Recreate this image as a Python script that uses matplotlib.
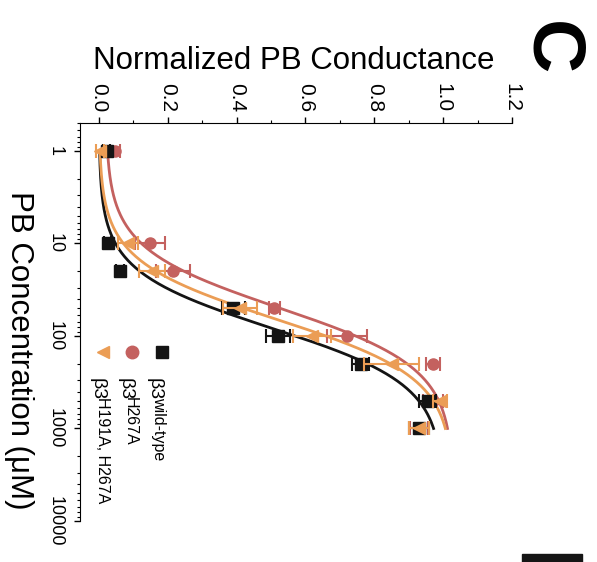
import numpy as np
import matplotlib
matplotlib.use("Agg")
import matplotlib.pyplot as plt
from matplotlib.ticker import MultipleLocator, LogLocator, FixedLocator, FixedFormatter, NullFormatter
from matplotlib.lines import Line2D
from matplotlib.patches import Rectangle

plt.rcParams['font.family'] = ['Liberation Sans', 'DejaVu Sans']

# --- data ---
conc = [1, 10, 20, 50, 100, 200, 500, 1000]

wt_g = [0.023, 0.026, 0.061, 0.39, 0.52, 0.76, 0.955, 0.93]
wt_err = [0.01, 0.01, 0.012, 0.033, 0.035, 0.025, 0.025, 0.03]

h267_g = [0.047, 0.148, 0.215, 0.51, 0.72, 0.97, 0.97, 0.93]
h267_err = [0.015, 0.044, 0.05, 0.015, 0.058, 0.02, 0.03, 0.025]

dbl_g = [0.003, 0.084, 0.154, 0.41, 0.62, 0.85, 0.99, 0.93]
dbl_err = [0.012, 0.03, 0.038, 0.05, 0.055, 0.08, 0.02, 0.03]

# Hill fits: bottom, top, EC50 (uM), slope
fit_bottom = [0.0, 0.02, 0.0]
fit_top = [1.0, 1.03, 1.03]
fit_ec50 = [82, 50, 66]
fit_slope = [1.42, 1.35, 1.38]

names = ['wild-type', 'H267A', 'H191A, H267A']
colors = ['#141414', '#c4615f', '#eb9d55']
markers = ['s', 'o', '<']

g_ticks = [0.0, 0.2, 0.4, 0.6, 0.8, 1.0, 1.2]
c_ticks = [1, 10, 100, 1000, 10000]
c_labels = ['1', '10', '100', '1000', '10000']

W, H = 597, 562


def px(x, y):
    return x / W, 1 - y / H


fig = plt.figure(figsize=(W / 100, H / 100), dpi=100, facecolor='white')
ax = fig.add_axes([80 / W, 1 - 521 / H, (512 - 80) / W, (521 - 123) / H])

series = [(wt_g, wt_err), (h267_g, h267_err), (dbl_g, dbl_err)]
cgrid = np.logspace(0, 3, 300)

# orden de dibujo: H267A, wild-type, doble mutante
order = [1, 0, 2]
for k, i in enumerate(order):
    b, t, ec, n = fit_bottom[i], fit_top[i], fit_ec50[i], fit_slope[i]
    fit = b + (t - b) / (1 + (ec / cgrid) ** n)
    ax.plot(fit, cgrid, color=colors[i], lw=2.0, zorder=2 + k)
for k, i in enumerate(order):
    g, e = series[i]
    ax.errorbar(g, conc, xerr=e, fmt=markers[i], color=colors[i], ms=8,
                elinewidth=1.5, capsize=5, capthick=1.5, zorder=6 + k)

ax.set_yscale('log')
ax.set_xlim(-0.055, 1.2)
ax.set_ylim(10000, 0.5)

ax.xaxis.tick_top()
ax.xaxis.set_major_locator(FixedLocator(g_ticks))
ax.xaxis.set_major_formatter(FixedFormatter(['%.1f' % v for v in g_ticks]))
ax.xaxis.set_minor_locator(MultipleLocator(0.1))
ax.yaxis.set_major_locator(FixedLocator(c_ticks))
ax.yaxis.set_major_formatter(FixedFormatter(c_labels))
ax.yaxis.set_minor_locator(LogLocator(base=10, subs=np.arange(2, 10)))
ax.yaxis.set_minor_formatter(NullFormatter())

ax.tick_params(axis='x', which='major', direction='out', length=4, width=1,
               labelsize=15, pad=4, labelrotation=-90, top=True, bottom=False)
ax.tick_params(axis='x', which='minor', direction='out', length=2.5, width=0.8,
               top=True, bottom=False)
ax.tick_params(axis='y', which='major', direction='out', length=4, width=1,
               labelsize=13, pad=8, labelrotation=-90)
ax.tick_params(axis='y', which='minor', direction='out', length=2.5, width=0.8)
for lbl in ax.get_xticklabels():
    lbl.set_ha('center')
    lbl.set_va('bottom')
for lbl in ax.get_yticklabels():
    lbl.set_va('center')
    lbl.set_ha('right')

ax.spines['bottom'].set_visible(False)
ax.spines['right'].set_visible(False)

# titulos de ejes
fig.text(*px(294, 61), 'Normalized PB Conductance', fontsize=22.5,
         ha='center', va='center')
fig.text(*px(19, 350), 'PB Concentration (\u03bcM)', fontsize=22.5,
         rotation=-90, ha='center', va='center')

# leyenda girada, a mano
leg_mark_x = [162, 132, 103]
leg_text_x = [154, 125, 97]
for i in range(3):
    fig.add_artist(Line2D([leg_mark_x[i] / W], [1 - 352 / H], marker=markers[i],
                          color=colors[i], ms=9, ls='none',
                          transform=fig.transFigure))
    fig.text(*px(leg_text_x[i], 378), '\u03b23', fontsize=14, rotation=-90,
             ha='center', va='top')
    fig.text(*px(leg_text_x[i] + 5, 397), names[i], fontsize=11.5, rotation=-90,
             ha='center', va='top')

# letra del panel y bloque oscuro abajo
fig.text(*px(550, 48), 'C', fontsize=54, fontweight='bold', rotation=-90,
         ha='center', va='center')
fig.add_artist(Rectangle(px(522, 562), 60 / W, 8 / H, transform=fig.transFigure,
                         color='#151515'))

fig.savefig('out.png', dpi=100)
